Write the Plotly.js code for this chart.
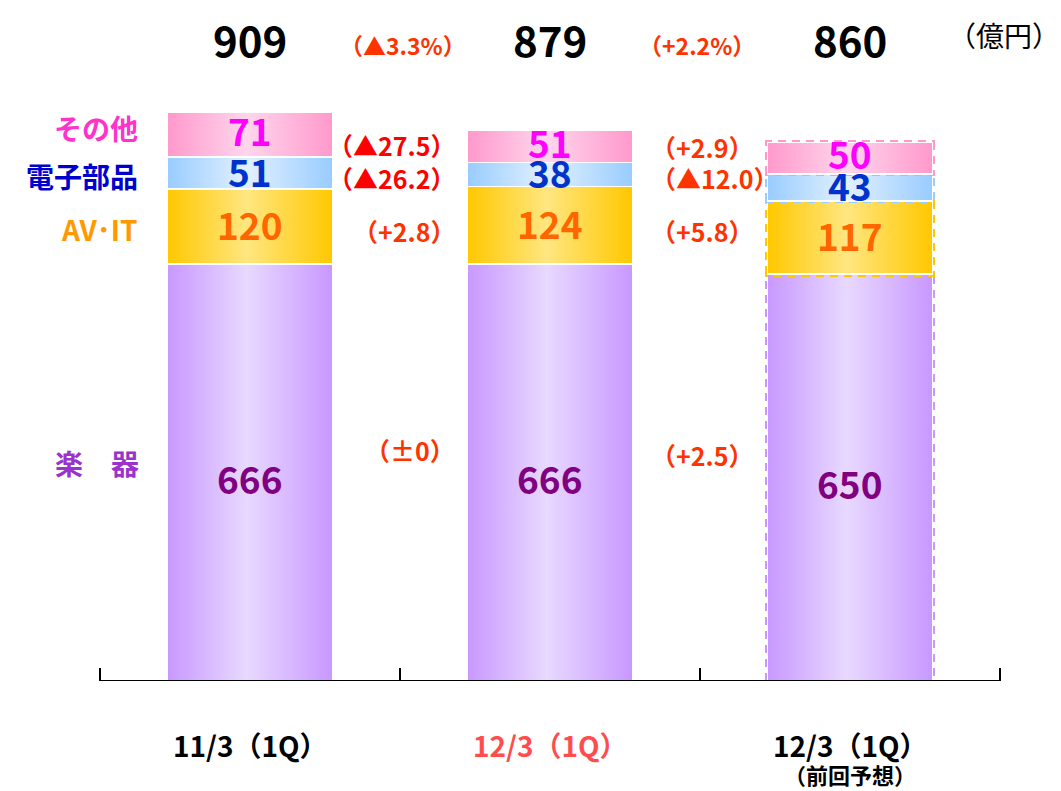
<!DOCTYPE html>
<html><head><meta charset="utf-8">
<script src="https://cdn.plot.ly/plotly-3.0.1.min.js"></script>
<style>html,body{margin:0;padding:0;background:#fff;}#chart{width:1061px;height:791px;}</style>
</head><body><div id="chart"></div>
<script>
// ---- data ----
const categories = ['11/3（1Q）', '12/3（1Q）', '12/3（1Q）（前回予想）'];
const xLabels = ['11/3（1Q）', '12/3（1Q）', '12/3（1Q）'];
const xSubLabels = ['', '', '（前回予想）'];
const seriesNames = ['楽　器', 'AV･IT', '電子部品', 'その他'];
const gakki = [666, 666, 650];
const avit = [120, 124, 117];
const denshi = [51, 38, 43];
const sonota = [71, 51, 50];
const totals = [909, 879, 860];
const totalChange = ['（▲3.3%）', '（+2.2%）'];
// changes ordered: その他, 電子部品, AV･IT, 楽器
const change1 = ['（▲27.5）', '（▲26.2）', '（+2.8）', '（±0）'];
const change2 = ['（+2.9）', '（▲12.0）', '（+5.8）', '（+2.5）'];
const unitLabel = '（億円）';

// ---- styling ----
const F = 'Noto Sans CJK JP, Noto Sans, sans-serif';
const series = [gakki, avit, denshi, sonota];
const edgeColors = ['#C898FF', '#FFC800', '#99CCFF', '#FF99CC'];
const midColors = ['#E8D9FF', '#FFE680', '#E2F1FF', '#FFD6EC'];
const textColors = ['#800080', '#FF6600', '#0033CC', '#FF00FF'];
const nameColors = ['#9933CC', '#FF9900', '#0000CC', '#FF33CC'];
const xIdx = categories.map((c, i) => i);

const traces = series.map((vals, i) => ({
  type: 'bar', x: xIdx, y: vals, name: seriesNames[i],
  width: 0.55,
  marker: {color: edgeColors[i], line: {color: '#ffffff', width: 1.5}},
  hoverinfo: 'none'
}));

// pixel helpers for the paper area (plot area 97..1003 x, 60..681 y)
const PX = p => (p - 97) / 906;
const PY = p => (681 - p) / 621;

const ann = [];
function A(o) { ann.push(Object.assign({showarrow: false, xanchor: 'center', yanchor: 'middle', borderpad: 0}, o)); }
// in-bar values
for (let c = 0; c < categories.length; c++) {
  let base = 0;
  series.forEach((vals, i) => {
    A({x: c, y: base + vals[c] / 2, xref: 'x', yref: 'y', text: String(vals[c]),
      yshift: i === 3 ? 5 : (i === 0 ? -5 : 2),
      font: {family: F, size: 37, color: textColors[i], weight: 'bold'}});
    base += vals[c];
  });
  // totals
  A({x: c, y: PY(38), xref: 'x', yref: 'paper', text: String(totals[c]),
    font: {family: F, size: 42, color: '#000', weight: 'bold'}});
  // category labels
  A({x: c, y: PY(745), xref: 'x', yref: 'paper', text: xLabels[c],
    font: {family: F, size: 28, color: c === 1 ? '#FF4D4D' : '#000', weight: 'bold'}});
  if (xSubLabels[c]) A({x: c, y: PY(774), xref: 'x', yref: 'paper', text: xSubLabels[c],
    font: {family: F, size: 22, color: '#000', weight: 'bold'}});
}
// series names on the left
const nameY = [463, 229, 176, 128];
seriesNames.forEach((n, i) => {
  A({x: i === 0 ? PX(97) : PX(139), xanchor: i === 0 ? 'center' : 'right', y: PY(nameY[i]),
    xref: 'paper', yref: 'paper', text: n,
    font: {family: F, size: 28, color: nameColors[i], weight: 'bold'}});
});
// change labels
const chY1 = [145, 178, 231, 450];
const chY2 = [147, 178, 231, 455];
change1.forEach((t, i) => A({x: PX(456), xanchor: 'right', y: PY(chY1[i]), xref: 'paper', yref: 'paper',
  text: t, font: {family: F, size: 25, color: i < 2 ? '#FF0000' : '#FF3300', weight: 'bold'}}));
change2.forEach((t, i) => A({x: PX(650), xanchor: 'left', y: PY(chY2[i]), xref: 'paper', yref: 'paper',
  text: t, font: {family: F, size: 25, color: '#FF3300', weight: 'bold'}}));
// total change labels
A({x: PX(403), y: PY(45), xref: 'paper', yref: 'paper', text: totalChange[0],
  font: {family: F, size: 23, color: '#FF3300', weight: 'bold'}});
A({x: PX(697), y: PY(45), xref: 'paper', yref: 'paper', text: totalChange[1],
  font: {family: F, size: 23, color: '#FF3300', weight: 'bold'}});
A({x: PX(1004), y: PY(35), xref: 'paper', yref: 'paper', text: unitLabel,
  font: {family: F, size: 28, color: '#000'}});

const layout = {
  width: 1061, height: 791,
  margin: {l: 97, r: 58, t: 60, b: 110},
  barmode: 'stack', showlegend: false,
  paper_bgcolor: '#fff', plot_bgcolor: '#fff',
  xaxis: {type: 'linear', range: [-0.51, 2.51], showline: false, linecolor: '#000', linewidth: 2,
    ticks: 'inside', tickmode: 'array', tickvals: [-0.5, 0.5, 1.5, 2.5], ticklen: 13, tickwidth: 1.5, tickcolor: '#000',
    showticklabels: false, showgrid: false, zeroline: false, fixedrange: true},
  yaxis: {range: [0, 621 / 0.6261], visible: false, showgrid: false, zeroline: false, fixedrange: true},
  shapes: [{type: 'line', xref: 'x', yref: 'y', x0: -0.5, x1: 2.5, y0: 0, y1: 0,
    line: {color: '#000', width: 2}}],
  annotations: ann
};

Plotly.newPlot('chart', traces, layout, {staticPlot: true, displayModeBar: false}).then(gd => {
  const svg = gd.querySelector('.main-svg');
  let defs = svg.querySelector('defs');
  const NS = 'http://www.w3.org/2000/svg';
  edgeColors.forEach((ec, i) => {
    const g = document.createElementNS(NS, 'linearGradient');
    g.setAttribute('id', 'grad' + i);
    g.setAttribute('x1', '0'); g.setAttribute('x2', '1'); g.setAttribute('y1', '0'); g.setAttribute('y2', '0');
    [[0, ec], [0.48, midColors[i]], [1, ec]].forEach(([o, c]) => {
      const s = document.createElementNS(NS, 'stop');
      s.setAttribute('offset', o); s.setAttribute('stop-color', c);
      g.appendChild(s);
    });
    defs.appendChild(g);
  });
  const tr = gd.querySelectorAll('.barlayer .trace');
  tr.forEach((t, i) => {
    const pts = t.querySelectorAll('.point path');
    pts.forEach((p, j) => {
      p.style.fill = 'url(#grad' + i + ')';
      if (j === 2) {
        const cl = p.cloneNode(true);
        cl.style.fill = 'none';
        cl.style.stroke = edgeColors[i];
        cl.style.strokeWidth = '5px';
        cl.style.strokeDasharray = '8,6';
        cl.style.strokeOpacity = '1';
        p.parentNode.insertBefore(cl, p);
      }
    });
  });
});
</script></body></html>
